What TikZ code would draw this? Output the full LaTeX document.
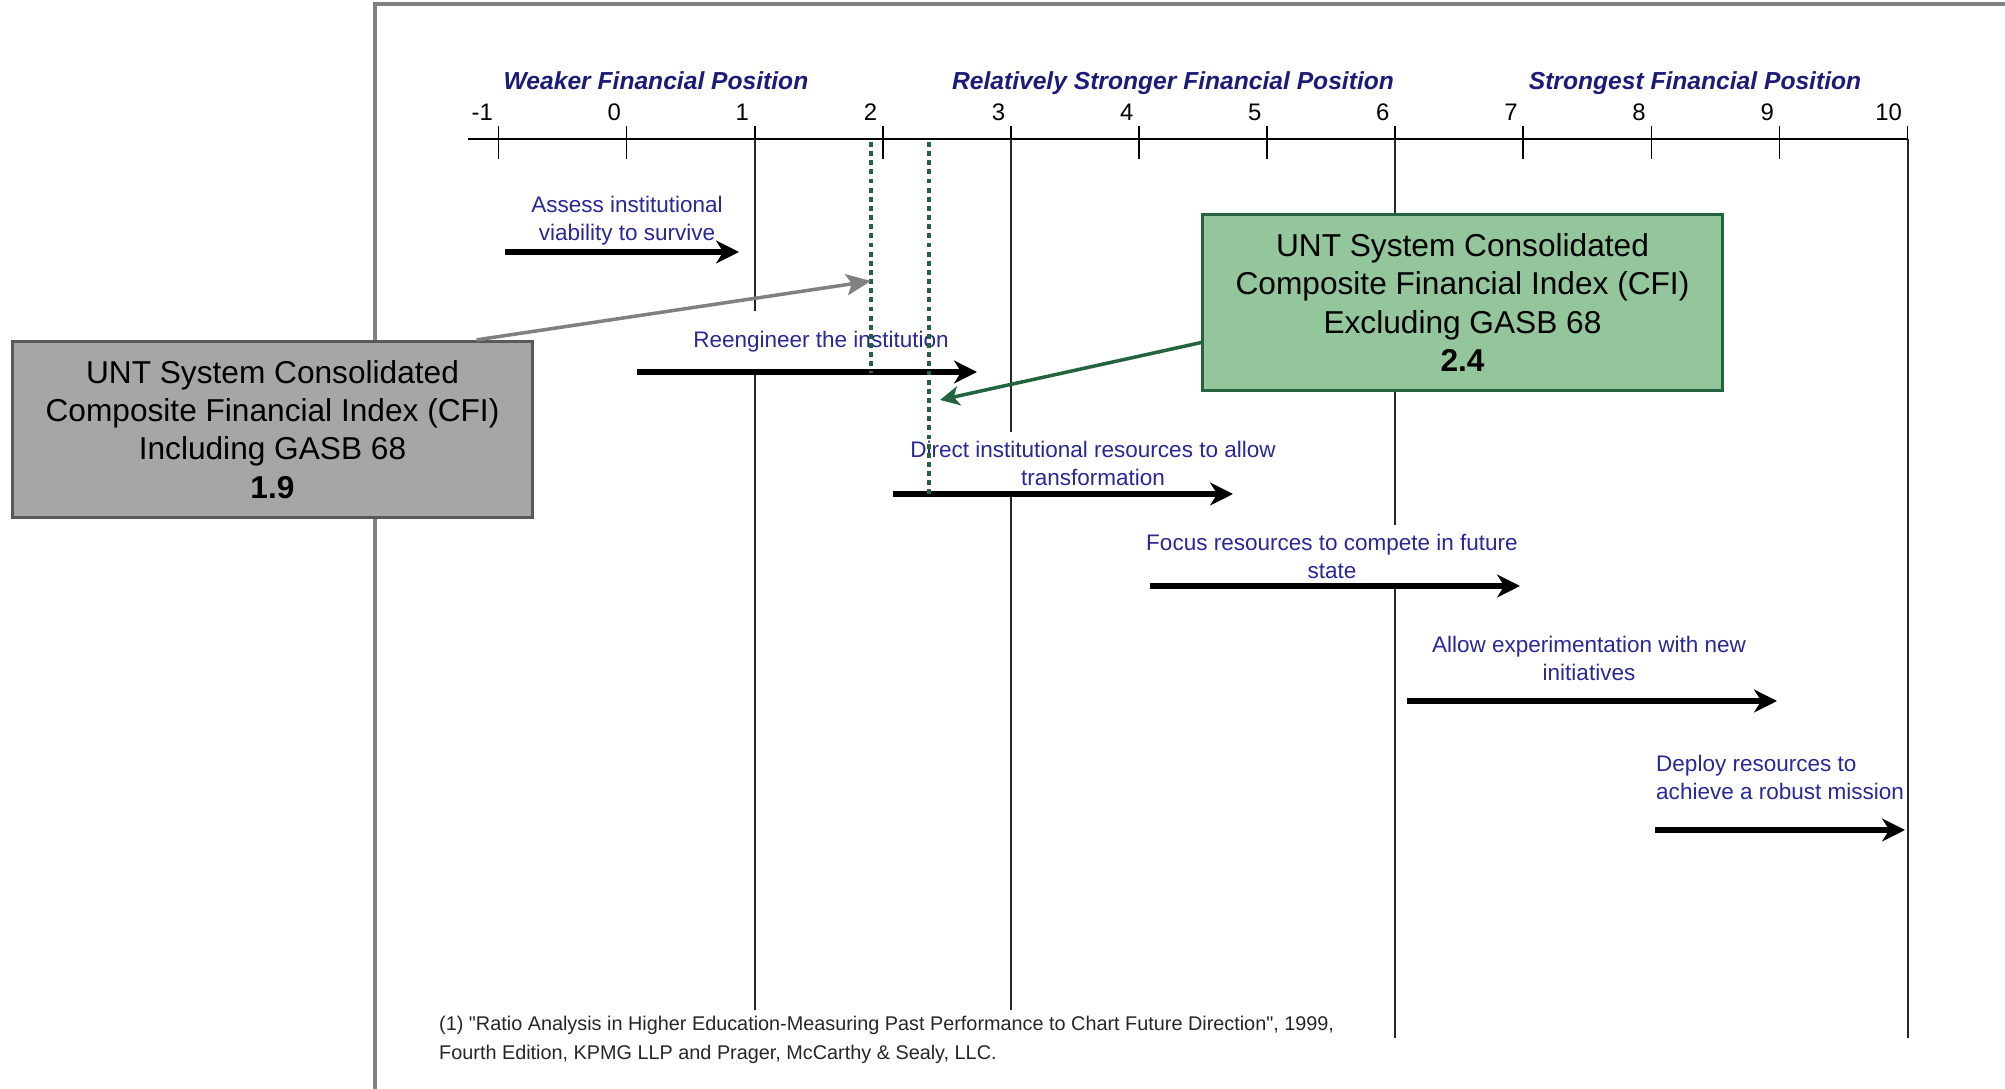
\documentclass[tikz,border=0pt]{standalone}
\usepackage{fontspec}
\setmainfont{Liberation Sans}
\usetikzlibrary{arrows.meta,positioning}

\definecolor{actionblue}{RGB}{40,40,150}
\definecolor{bandblue}{RGB}{28,28,120}
\definecolor{cfigreen}{RGB}{147,198,154}
\definecolor{cfidkgreen}{RGB}{35,100,62}
\definecolor{cfigray}{RGB}{166,166,166}
\definecolor{cfidkgray}{RGB}{89,89,89}
\definecolor{framegray}{RGB}{128,128,128}

\tikzset{
  band/.style={font=\fontsize{7}{8.4}\selectfont\bfseries\itshape, text=bandblue, anchor=base},
  ticklabel/.style={font=\fontsize{6.8}{8}\selectfont, anchor=east, inner sep=0pt},
  actionlabel/.style={font=\fontsize{6.4}{7.97}\selectfont, text=actionblue, fill=white,
    align=center, minimum height=0.61cm, inner sep=1pt},
  actionarrow/.style={line width=1.9pt, -{Stealth[length=6.5pt,width=6.5pt,inset=2pt]}},
  cfibox/.style={draw, line width=0.9pt, minimum width=5.19cm, minimum height=1.76cm,
    align=center, font=\fontsize{9}{10.9}\selectfont},
  marker/.style={cfidkgreen, line width=1.1pt, dash pattern=on 1.4pt off 1.2pt},
}

\begin{document}
\begin{tikzpicture}[x=0.01cm, y=-0.01cm, >=Stealth]
    \useasboundingbox (0,0) rectangle (2005,1089);

    % Slide frame
    \draw[framegray, line width=0.9pt] (375,1089) -- (375,4) -- (2005,4);

    % Scale of the index
    \draw[line width=0.55pt] (468,139) -- (1908,139);
    \foreach \v in {-1,...,10} {
        \draw[line width=0.5pt] (626.6+128.1*\v,126) -- (626.6+128.1*\v,159);
        \node[ticklabel] (tick\v) at (621.6+128.1*\v,112) {\v};
    }
    \foreach \v/\e in {1/1010, 3/1010, 6/1038, 10/1038}
        \draw[black!85, line width=0.55pt] (626.6+128.1*\v,139) -- (626.6+128.1*\v,\e);

    % Bands above the scale
    \node[band] (weak) at (656,90) {Weaker Financial Position};
    \node[band] (mid) at (1173,90) {Relatively Stronger Financial Position};
    \node[band] (strong) at (1695,90) {Strongest Financial Position};

    % Actions
    \node[actionlabel] (assess) at (627,221) {Assess institutional\\viability to survive};
    \node[actionlabel] (reeng) at (821,342) {Reengineer the institution};
    \node[actionlabel] (direct) at (1093,463) {Direct institutional resources to allow\\transformation};
    \node[actionlabel] (focus) at (1332,556) {Focus resources to compete in future\\state};
    \node[actionlabel] (allow) at (1589,658) {Allow experimentation with new\\initiatives};
    \node[actionlabel, align=left, anchor=west] (deploy) at (1652,777) {Deploy resources to\\achieve a robust mission};

    \draw[actionarrow] (505,252) -- (739,252);
    \draw[actionarrow] (637,372) -- (977,372);
    \draw[actionarrow] (893,494) -- (1233,494);
    \draw[actionarrow] (1150,586) -- (1520,586);
    \draw[actionarrow] (1407,701) -- (1777,701);
    \draw[actionarrow] (1655,830) -- (1905,830);

    % Index values on the scale
    \coordinate (top19) at (871,142);
    \coordinate (end19) at (871,373);
    \coordinate (top24) at (929,142);
    \coordinate (end24) at (929,494);
    \draw[marker] (top19) -- (end19);
    \draw[marker] (top24) -- (end24);
    \coordinate (pin19) at (871,281);
    \coordinate (pin24) at (940,400);

    % Call-outs
    \node[cfibox, fill=cfigray, draw=cfidkgray] (cfiincl) at (272.5,429.5)
        {UNT System Consolidated\\Composite Financial Index (CFI)\\Including GASB 68\\\textbf{1.9}};
    \node[cfibox, fill=cfigreen, draw=cfidkgreen] (cfiexcl) at (1462.5,302.5)
        {UNT System Consolidated\\Composite Financial Index (CFI)\\Excluding GASB 68\\\textbf{2.4}};

    \draw[framegray, line width=1pt, -{Stealth[length=7pt,width=6pt,inset=1.5pt]}] ([xshift=2.04cm]cfiincl.north) -- (pin19);
    \draw[cfidkgreen, line width=1pt, -{Stealth[length=5.5pt,width=5.5pt,inset=1.5pt]}] ([yshift=-0.4cm]cfiexcl.west) -- (pin24);

    % Source
    \node[anchor=west, align=left, text=black!85, font=\fontsize{5.64}{8.4}\selectfont, inner sep=1pt] (source) at (435,1040)
        {(1) \textquotedbl Ratio Analysis in Higher Education-Measuring Past Performance to Chart Future Direction\textquotedbl, 1999,\\Fourth Edition, KPMG LLP and Prager, McCarthy \& Sealy, LLC.};

\end{tikzpicture}
\end{document}
